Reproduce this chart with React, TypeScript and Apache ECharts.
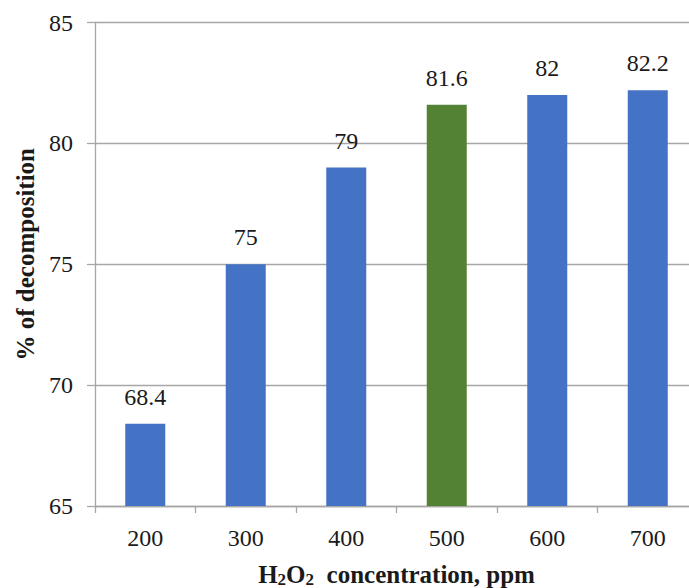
import React, { useEffect, useRef } from "react";
import * as echarts from "echarts";

const concentrations = ["200", "300", "400", "500", "600", "700"];
const decomposition = [68.4, 75, 79, 81.6, 82, 82.2];
const highlighted = "500";
const yTicks = { min: 65, max: 85, interval: 5 };

const BLUE = "#4472C4";
const GREEN = "#548235";
const INK = "#1a1a1a";
const AXIS_GRAY = "#a6a6a6";
const FONT = "Liberation Serif";

export default function App() {
  const ref = useRef<HTMLDivElement>(null);

  useEffect(() => {
    if (!ref.current) return;
    const chart = echarts.init(ref.current, null, { renderer: "svg" });
    chart.setOption({
      animation: false,
      textStyle: { fontFamily: FONT },
      grid: {
        left: 95,
        right: -9,
        top: 22.5,
        bottom: 82,
        containLabel: false,
        outerBoundsMode: "none",
      },
      xAxis: {
        type: "category",
        data: concentrations,
        axisLine: { lineStyle: { color: AXIS_GRAY, width: 1.3 } },
        axisTick: { show: true, length: 7, lineStyle: { color: AXIS_GRAY, width: 1.3 } },
        axisLabel: { color: INK, fontSize: 24, fontFamily: FONT, margin: 20 },
        name: "H{s|2}O{s|2}  concentration, ppm",
        nameLocation: "middle",
        nameGap: 54,
        nameTextStyle: {
          color: INK,
          fontSize: 25,
          fontWeight: "bold",
          fontFamily: FONT,
          rich: {
            s: { fontSize: 17, fontWeight: "bold", fontFamily: FONT, color: INK, padding: [11, 0, 0, 0] },
          },
        },
      },
      yAxis: {
        type: "value",
        min: yTicks.min,
        max: yTicks.max,
        interval: yTicks.interval,
        axisLine: { show: true, lineStyle: { color: AXIS_GRAY, width: 1.3 } },
        axisTick: { show: true, length: 8, lineStyle: { color: AXIS_GRAY, width: 1.3 } },
        splitLine: { show: true, lineStyle: { color: AXIS_GRAY, width: 1.3 } },
        axisLabel: { color: INK, fontSize: 24, fontFamily: FONT, margin: 22 },
        name: "% of decomposition",
        nameLocation: "middle",
        nameRotate: 90,
        nameGap: 56,
        nameTextStyle: {
          color: INK,
          fontSize: 25,
          fontWeight: "bold",
          fontFamily: FONT,
          padding: [0, 0, 0, 20],
        },
      },
      series: [
        {
          type: "bar",
          barWidth: 40,
          data: decomposition.map((v, i) => ({
            value: v,
            itemStyle: { color: concentrations[i] === highlighted ? GREEN : BLUE },
          })),
          label: {
            show: true,
            position: "top",
            distance: 15,
            color: INK,
            fontSize: 24,
            fontFamily: FONT,
          },
        },
      ],
    });
    return () => chart.dispose();
  }, []);

  return (
    <div
      ref={ref}
      style={{ position: "absolute", left: 0, top: 0, width: 689, height: 588 }}
    />
  );
}
